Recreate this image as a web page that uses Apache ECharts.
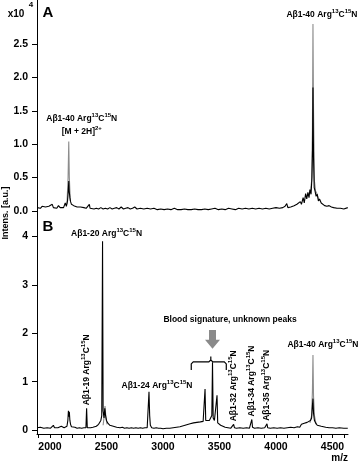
<!DOCTYPE html>
<html><head><meta charset="utf-8">
<script src="https://cdn.jsdelivr.net/npm/echarts@6/dist/echarts.min.js"></script>
<style>html,body{margin:0;padding:0;background:#fff;}#c{width:358px;height:463px;}</style>
</head><body><div id="c"></div>
<script>
// ---------- axis ticks ----------
const xTickLabels = [2000, 2500, 3000, 3500, 4000, 4500];
const xTicks = [1900,2000,2100,2200,2300,2400,2500,2600,2700,2800,2900,3000,3100,3200,3300,3400,3500,3600,3700,3800,3900,4000,4100,4200,4300,4400,4500,4600];
const yTicksA = [0, 0.5, 1.0, 1.5, 2.0, 2.5];
const yTicksB = [0, 1, 2, 3, 4];

// ---------- panel A spectrum (x10^4) ----------
const specA_black = [
[1886,0.05],[1900,0.06],[1915,0.04],[1930,0.07],[1945,0.05],[1960,0.06],[1975,0.04],[1990,0.07],[2005,0.05],[2020,0.1],[2030,0.05],[2045,0.06],[2060,0.04],[2075,0.08],[2090,0.05],[2105,0.06],[2120,0.05],[2135,0.12],[2145,0.07],[2155,0.15],[2162,0.3],[2166,0.45],[2170,0.3],[2176,0.2],[2182,0.14],[2190,0.1],[2200,0.12],[2210,0.08],[2225,0.07],[2240,0.06],[2255,0.05],[2270,0.06],[2285,0.04],[2300,0.05],[2320,0.04],[2335,0.05],[2348,0.1],[2355,0.04],[2370,0.04],[2390,0.03],[2410,0.04],[2430,0.03],[2450,0.05],[2470,0.03],[2490,0.04],[2510,0.03],[2530,0.05],[2550,0.03],[2570,0.04],[2590,0.05],[2610,0.03],[2630,0.06],[2650,0.03],[2670,0.04],[2690,0.05],[2710,0.03],[2730,0.04],[2750,0.06],[2770,0.03],[2800,0.04],[2830,0.03],[2860,0.04],[2890,0.03],[2920,0.04],[2950,0.02],[2980,0.03],[3010,0.02],[3040,0.03],[3070,0.02],[3100,0.04],[3130,0.02],[3160,0.02],[3190,0.03],[3220,0.02],[3250,0.02],[3280,0.03],[3310,0.02],[3340,0.02],[3370,0.03],[3400,0.02],[3430,0.03],[3460,0.04],[3490,0.02],[3520,0.03],[3550,0.02],[3580,0.04],[3610,0.03],[3640,0.02],[3670,0.04],[3700,0.03],[3730,0.04],[3760,0.03],[3790,0.04],[3820,0.03],[3850,0.04],[3880,0.03],[3910,0.04],[3940,0.03],[3970,0.04],[4000,0.05],[4030,0.04],[4060,0.05],[4080,0.07],[4095,0.11],[4105,0.05],[4130,0.06],[4160,0.08],[4185,0.1],[4200,0.09],[4215,0.14],[4225,0.1],[4240,0.2],[4250,0.12],[4262,0.26],[4272,0.18],[4282,0.28],[4292,0.2],[4300,0.32],[4310,0.25],[4318,0.5],[4323,0.9],[4327,1.85],[4332,0.8],[4338,0.35],[4345,0.3],[4355,0.22],[4365,0.25],[4375,0.15],[4385,0.18],[4400,0.12],[4415,0.14],[4430,0.08],[4450,0.07],[4470,0.08],[4490,0.06],[4510,0.05],[4540,0.04],[4570,0.04],[4600,0.03],[4635,0.05]
];
const specA_gray = [
[2150,0.1],[2160,0.5],[2166,1.04],[2171,0.5],[2180,0.15],[2181,null],
[4290,0.25],[4305,0.3],[4315,0.45],[4322,1.2],[4327,2.8],[4332,1.5],[4340,0.45],[4350,0.3],[4365,0.25],[4380,0.15]
];

// ---------- panel B spectrum (x10^4) ----------
const specB_black = [
[1886,0.05],[1900,0.04],[1915,0.06],[1930,0.05],[1945,0.04],[1960,0.06],[1975,0.05],[1990,0.05],[2005,0.04],[2020,0.06],[2030,0.1],[2040,0.05],[2055,0.04],[2070,0.05],[2085,0.04],[2100,0.08],[2110,0.05],[2125,0.05],[2140,0.06],[2150,0.08],[2158,0.2],[2163,0.4],[2167,0.28],[2171,0.38],[2176,0.2],[2182,0.12],[2190,0.07],[2205,0.05],[2220,0.06],[2240,0.04],[2260,0.05],[2280,0.04],[2300,0.05],[2318,0.05],[2324,0.45],[2330,0.05],[2345,0.04],[2360,0.05],[2380,0.06],[2395,0.05],[2410,0.08],[2420,0.06],[2430,0.12],[2440,0.1],[2450,0.2],[2458,0.3],[2465,3.9],[2470,0.4],[2478,0.25],[2485,0.45],[2492,0.3],[2500,0.2],[2510,0.15],[2520,0.18],[2530,0.1],[2545,0.12],[2560,0.08],[2575,0.1],[2590,0.06],[2605,0.08],[2620,0.05],[2640,0.06],[2660,0.04],[2680,0.05],[2700,0.04],[2720,0.05],[2740,0.04],[2760,0.05],[2780,0.04],[2800,0.05],[2820,0.04],[2840,0.05],[2860,0.05],[2870,0.08],[2876,0.79],[2882,0.3],[2888,0.1],[2900,0.05],[2920,0.04],[2940,0.05],[2960,0.04],[2980,0.04],[3000,0.03],[3030,0.04],[3060,0.04],[3090,0.05],[3120,0.06],[3150,0.07],[3180,0.09],[3210,0.11],[3240,0.13],[3270,0.15],[3300,0.16],[3330,0.17],[3355,0.18],[3365,0.2],[3372,0.85],[3378,0.2],[3395,0.19],[3410,0.2],[3425,0.22],[3432,0.3],[3438,1.4],[3444,0.25],[3455,0.2],[3465,0.18],[3472,0.22],[3478,0.72],[3484,0.15],[3495,0.12],[3510,0.1],[3530,0.08],[3550,0.06],[3575,0.05],[3600,0.04],[3615,0.05],[3625,0.12],[3632,0.05],[3650,0.04],[3680,0.05],[3710,0.04],[3740,0.05],[3765,0.04],[3780,0.06],[3786,0.22],[3792,0.06],[3810,0.04],[3840,0.05],[3870,0.04],[3900,0.05],[3914,0.06],[3920,0.13],[3926,0.05],[3950,0.04],[3980,0.05],[4010,0.04],[4040,0.05],[4070,0.04],[4100,0.05],[4130,0.06],[4160,0.05],[4190,0.07],[4210,0.06],[4225,0.12],[4235,0.08],[4250,0.14],[4262,0.1],[4275,0.16],[4290,0.12],[4305,0.2],[4315,0.25],[4322,0.5],[4327,0.65],[4332,0.35],[4340,0.2],[4350,0.15],[4365,0.1],[4380,0.12],[4400,0.08],[4420,0.07],[4440,0.06],[4470,0.05],[4500,0.05],[4530,0.04],[4560,0.05],[4600,0.04],[4635,0.04]
];
const specB_gray = [
[2470,0.1],[2480,0.3],[2487,0.5],[2495,0.25],[2505,0.12],[2506,null],
[4300,0.15],[4315,0.3],[4322,0.8],[4327,1.55],[4332,0.7],[4340,0.3],[4355,0.12]
];

// ---------- annotations (label text and the peak they belong to) ----------
const peakNamesA = [
  {name: 'Aβ1-40', mz: 4327, value: 2.8},
  {name: 'Aβ1-40', mz: 2166, value: 1.04, second: '[M + 2H]', secondSup: '2+'}
];
const peakNamesB = [
  {name: 'Aβ1-20', mz: 2465, value: 3.9},
  {name: 'Aβ1-19', mz: 2324, value: 0.45, vertical: true},
  {name: 'Aβ1-24', mz: 2876, value: 0.79},
  {name: 'Aβ1-32', mz: 3625, value: 0.12, vertical: true},
  {name: 'Aβ1-34', mz: 3786, value: 0.22, vertical: true},
  {name: 'Aβ1-35', mz: 3920, value: 0.13, vertical: true},
  {name: 'Aβ1-40', mz: 4327, value: 1.55}
];
const bloodText = 'Blood signature, unknown peaks';
const bloodRange = [3250, 3560];
const bloodArrowMz = 3438;

// ---------- styling / layout ----------
const F = "'Liberation Sans', Arial, sans-serif";
const X_MIN = 1885, X_MAX = 4637;
const rich = {
  t: {fontSize: 8.5, fontWeight: 'bold', fontFamily: F, color: '#000', lineHeight: 13},
  s: {fontSize: 6, fontWeight: 'bold', fontFamily: F, color: '#000', verticalAlign: 'top', lineHeight: 8}
};
function fmt(p) {
  let s = '{t|' + p.name + ' Arg}{s|13}{t|C}{s|15}{t|N}';
  if (p.second) s += '\n{t|' + p.second + '}{s|' + p.secondSup + '}';
  return s;
}
const layoutA = [
  {dx: 9, dist: 3},
  {dx: 13, dist: 3}
];
const layoutB = [
  {dx: 4, dist: 1},
  {dist: 3},
  {dx: 8, dist: 0},
  {dist: 3},
  {dist: 3},
  {dist: 3},
  {dx: 10, dist: 4}
];
function mp(list, layout) {
  return list.map((p, i) => {
    const L = layout[i];
    const label = {show: true, formatter: fmt(p), rich: rich, position: 'top', distance: L.dist || 0};
    if (p.vertical) {
      label.rotate = 90; label.align = 'left'; label.verticalAlign = 'middle';
    } else {
      label.offset = [L.dx || 0, 0]; label.align = 'center';
    }
    return {coord: [p.mz, p.value], label: label};
  });
}

const chart = echarts.init(document.getElementById('c'), null, {renderer: 'canvas'});
const axisLabelStyle = {color: '#000', fontFamily: F, fontWeight: 'bold', fontSize: 10.5};
const option = {
  animation: false,
  backgroundColor: '#fff',
  grid: [
    {left: 37, right: 10, top: 0, height: 222},
    {left: 37, right: 10, top: 222, bottom: 29}
  ],
  xAxis: [
    {type: 'value', gridIndex: 0, min: X_MIN, max: X_MAX, show: false},
    {type: 'value', gridIndex: 1, min: X_MIN, max: X_MAX,
     axisLine: {show: true, onZero: false, lineStyle: {color: '#000', width: 1}},
     axisTick: {show: true, customValues: xTicks, length: 4, lineStyle: {color: '#000'}},
     axisLabel: Object.assign({customValues: xTickLabels, margin: 8, formatter: v => String(v)}, axisLabelStyle),
     splitLine: {show: false}}
  ],
  yAxis: [
    {type: 'value', gridIndex: 0, min: -0.165, max: 3.16,
     axisLine: {show: true, onZero: false, lineStyle: {color: '#000', width: 1}},
     axisTick: {show: true, customValues: yTicksA, length: 5, lineStyle: {color: '#000'}},
     axisLabel: Object.assign({customValues: yTicksA, margin: 9, formatter: v => v.toFixed(1)}, axisLabelStyle),
     splitLine: {show: false}},
    {type: 'value', gridIndex: 1, min: -0.08, max: 4.3,
     axisLine: {show: true, onZero: false, lineStyle: {color: '#000', width: 1}},
     axisTick: {show: true, customValues: yTicksB, length: 5, lineStyle: {color: '#000'}},
     axisLabel: Object.assign({customValues: yTicksB, margin: 9, formatter: v => String(v)}, axisLabelStyle),
     splitLine: {show: false}}
  ],
  series: [
    {type: 'line', xAxisIndex: 0, yAxisIndex: 0, data: specA_gray, showSymbol: false, symbol: 'none', connectNulls: false,
     lineStyle: {color: '#8c8c8c', width: 1.1}, z: 2},
    {type: 'line', xAxisIndex: 0, yAxisIndex: 0, data: specA_black, showSymbol: false, symbol: 'none',
     lineStyle: {color: '#000', width: 1.1}, z: 3,
     markPoint: {symbol: 'circle', symbolSize: 0, silent: true, data: mp(peakNamesA, layoutA)}},
    {type: 'line', xAxisIndex: 1, yAxisIndex: 1, data: specB_gray, showSymbol: false, symbol: 'none', connectNulls: false,
     lineStyle: {color: '#8c8c8c', width: 1.1}, z: 2},
    {type: 'line', xAxisIndex: 1, yAxisIndex: 1, data: specB_black, showSymbol: false, symbol: 'none',
     lineStyle: {color: '#000', width: 1.1}, z: 3,
     markPoint: {symbol: 'circle', symbolSize: 0, silent: true, data: mp(peakNamesB, layoutB)}}
  ]
};
chart.setOption(option);

// annotations positioned from data coordinates
const toPx = (mz, v) => chart.convertToPixel({xAxisIndex: 1, yAxisIndex: 1}, [mz, v]);
const a = toPx(bloodArrowMz, 2.07), aEnd = toPx(bloodArrowMz, 1.68);
const ax = a[0], at = a[1], ab = aEnd[1];
const hl = 9;
const arrowPts = [[ax-3.5, at], [ax+3.5, at], [ax+3.5, ab-hl], [ax+7.5, ab-hl], [ax, ab], [ax-7.5, ab-hl], [ax-3.5, ab-hl]];
const bl = toPx(bloodRange[0], 1.24), br = toPx(bloodRange[1], 1.24);
const barY = toPx(bloodArrowMz, 1.41)[1], pipY = toPx(bloodArrowMz, 1.52)[1];
const bx = toPx(bloodArrowMz - 15, 0)[0];
const bracePts = [[bl[0], bl[1]], [bl[0], barY+2], [bl[0]+2, barY], [bx-2, barY], [bx, barY-2], [bx, pipY], [bx, barY-2], [bx+2, barY], [br[0]-2, barY], [br[0], barY+2], [br[0], br[1]]];
const txt = toPx(3593, 2.28);
const xEnd = toPx(X_MAX, 0)[0];

chart.setOption({
  graphic: [
    {type: 'polygon', shape: {points: arrowPts}, style: {fill: '#8a8a8a'}, silent: true},
    {type: 'polyline', shape: {points: bracePts}, style: {stroke: '#000', lineWidth: 1.2, fill: null}, silent: true},
    {type: 'text', x: txt[0], y: txt[1], style: {text: bloodText, font: 'bold 8.5px ' + F, fill: '#000', align: 'center', verticalAlign: 'middle'}},
    {type: 'text', x: 48, y: 13, style: {text: 'A', font: 'bold 15px ' + F, fill: '#000', align: 'center', verticalAlign: 'middle'}},
    {type: 'text', x: 48, y: 227, style: {text: 'B', font: 'bold 15px ' + F, fill: '#000', align: 'center', verticalAlign: 'middle'}},
    {type: 'text', x: 16, y: 14, style: {text: 'x10', font: 'bold 10px ' + F, fill: '#000', align: 'center', verticalAlign: 'middle'}},
    {type: 'text', x: 31, y: 5, style: {text: '4', font: 'bold 8px ' + F, fill: '#000', align: 'center', verticalAlign: 'middle'}},
    {type: 'text', x: 6, y: 213, rotation: Math.PI / 2, style: {text: 'Intens. [a.u.]', font: 'bold 9px ' + F, fill: '#000', align: 'center', verticalAlign: 'middle'}},
    {type: 'text', x: xEnd, y: 458, style: {text: 'm/z', font: 'bold 10px ' + F, fill: '#000', align: 'right', verticalAlign: 'middle'}}
  ]
});
</script></body></html>
